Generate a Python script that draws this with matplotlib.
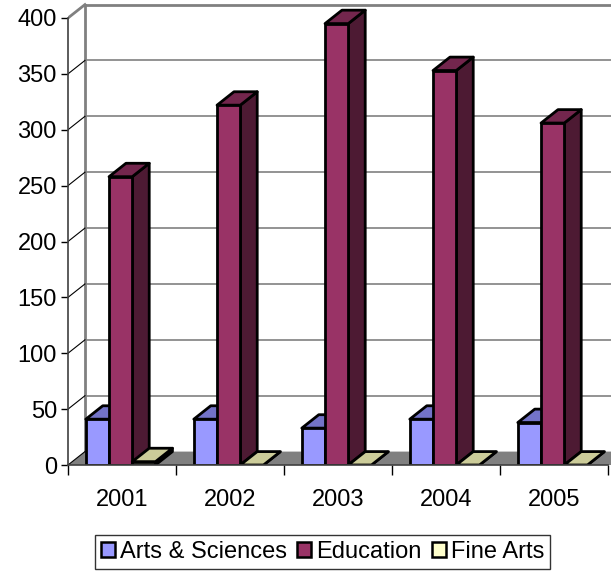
import numpy as np
import matplotlib
matplotlib.use("Agg")
import matplotlib.pyplot as plt
from matplotlib.patches import Polygon, Patch

plt.rcParams['font.family'] = ['Liberation Sans', 'DejaVu Sans']

# data
years = ['2001', '2002', '2003', '2004', '2005']
arts_sciences = [41, 41, 33, 41, 38]
education = [258, 322, 395, 353, 306]
fine_arts = [3, 0, 0, 0, 0]

series = [
    ('Arts & Sciences', arts_sciences, '#9999FF', '#7373C8', '#4D4D80'),
    ('Education', education, '#993366', '#73264D', '#4D1A33'),
    ('Fine Arts', fine_arts, '#FFFFCC', '#CCCC99', '#999973'),
]

# fake 3d depth (in data units)
dx = 0.157
dy = 12.0
bar_w = 0.215
offset = 0.165

fig = plt.figure(figsize=(6.11, 5.71), dpi=100)
ax = fig.add_axes([68 / 611, 106 / 571, 543 / 611, 465 / 571])
xmax = 543 / 108
ax.set_xlim(0, xmax)
ax.set_ylim(0, 465 / 1.1175)

# floor
ax.add_patch(Polygon([(0, 0), (xmax, 0), (xmax + dx, dy), (dx, dy)],
                     closed=True, facecolor='#808080', edgecolor='none', zorder=1))
# left wall
ax.add_patch(Polygon([(0, 0), (0, 400), (dx, 400 + dy), (dx, dy)],
                     closed=True, facecolor='white', edgecolor='none', zorder=1))
ax.plot([dx, dx], [dy, 400 + dy], color='#808080', lw=2, zorder=2)
ax.plot([dx, xmax + 0.1], [400 + dy, 400 + dy], color='#808080', lw=2, zorder=2, clip_on=False)
ax.plot([0, dx], [400, 400 + dy], color='#808080', lw=2, zorder=2)

yt = np.arange(0, 401, 50)
for v in yt[:-1]:
    if v > 0:
        ax.plot([dx, xmax + 0.1], [v + dy, v + dy], color='#808080', lw=1.2, zorder=2, clip_on=False)
    ax.plot([0, dx], [v, v + dy], color='black', lw=0.8, zorder=2)

# bars, left to right so later ones cover earlier side faces
z = 3
for i in range(len(years)):
    for j, (name, vals, front, top, side) in enumerate(series):
        h = vals[i]
        x0 = i + offset + j * bar_w
        x1 = x0 + bar_w
        ax.add_patch(Polygon([(x1, 0), (x1 + dx, dy), (x1 + dx, h + dy), (x1, h)],
                             closed=True, facecolor=side, edgecolor='black', lw=2,
                             joinstyle='round', zorder=z))
        ax.add_patch(Polygon([(x0, h), (x1, h), (x1 + dx, h + dy), (x0 + dx, h + dy)],
                             closed=True, facecolor=top, edgecolor='black', lw=2,
                             joinstyle='round', zorder=z))
        ax.add_patch(Polygon([(x0, 0), (x1, 0), (x1, h), (x0, h)],
                             closed=True, facecolor=front, edgecolor='black', lw=2,
                             joinstyle='round', zorder=z))
        z += 1

# axes styling
for s in ['top', 'right']:
    ax.spines[s].set_visible(False)
ax.spines['left'].set_bounds(0, 400)
ax.spines['left'].set_color('#404040')
ax.spines['left'].set_linewidth(1.2)
ax.spines['bottom'].set_bounds(0, 5)
ax.spines['bottom'].set_color('#404040')
ax.spines['bottom'].set_linewidth(1.2)
ax.spines['left'].set_zorder(30)
ax.spines['bottom'].set_zorder(30)

ax.set_yticks(yt)
ax.set_yticklabels([str(v) for v in yt])
ax.tick_params(axis='y', length=5, width=1, pad=3, labelsize=17, color='black')

ax.set_xticks(np.arange(len(years)) + 0.5)
ax.set_xticklabels(years)
ax.set_xticks(np.arange(len(years) + 1), minor=True)
ax.tick_params(axis='x', which='major', length=0, pad=17, labelsize=17)
ax.tick_params(axis='x', which='minor', length=7, width=1, color='black')

handles = [Patch(facecolor=f, edgecolor='black', lw=1.8, label=n) for n, _, f, _, _ in series]
leg = fig.legend(handles=handles, loc='upper center', ncol=3,
                 bbox_to_anchor=(322.5 / 611, 1 - 535 / 571), bbox_transform=fig.transFigure,
                 fontsize=17, frameon=True, fancybox=False, edgecolor='black',
                 handlelength=0.6, handleheight=0.6, handletextpad=0.2,
                 columnspacing=0.45, borderpad=0.25, borderaxespad=0)
leg.get_frame().set_linewidth(1)

fig.savefig('out.png', dpi=100)
